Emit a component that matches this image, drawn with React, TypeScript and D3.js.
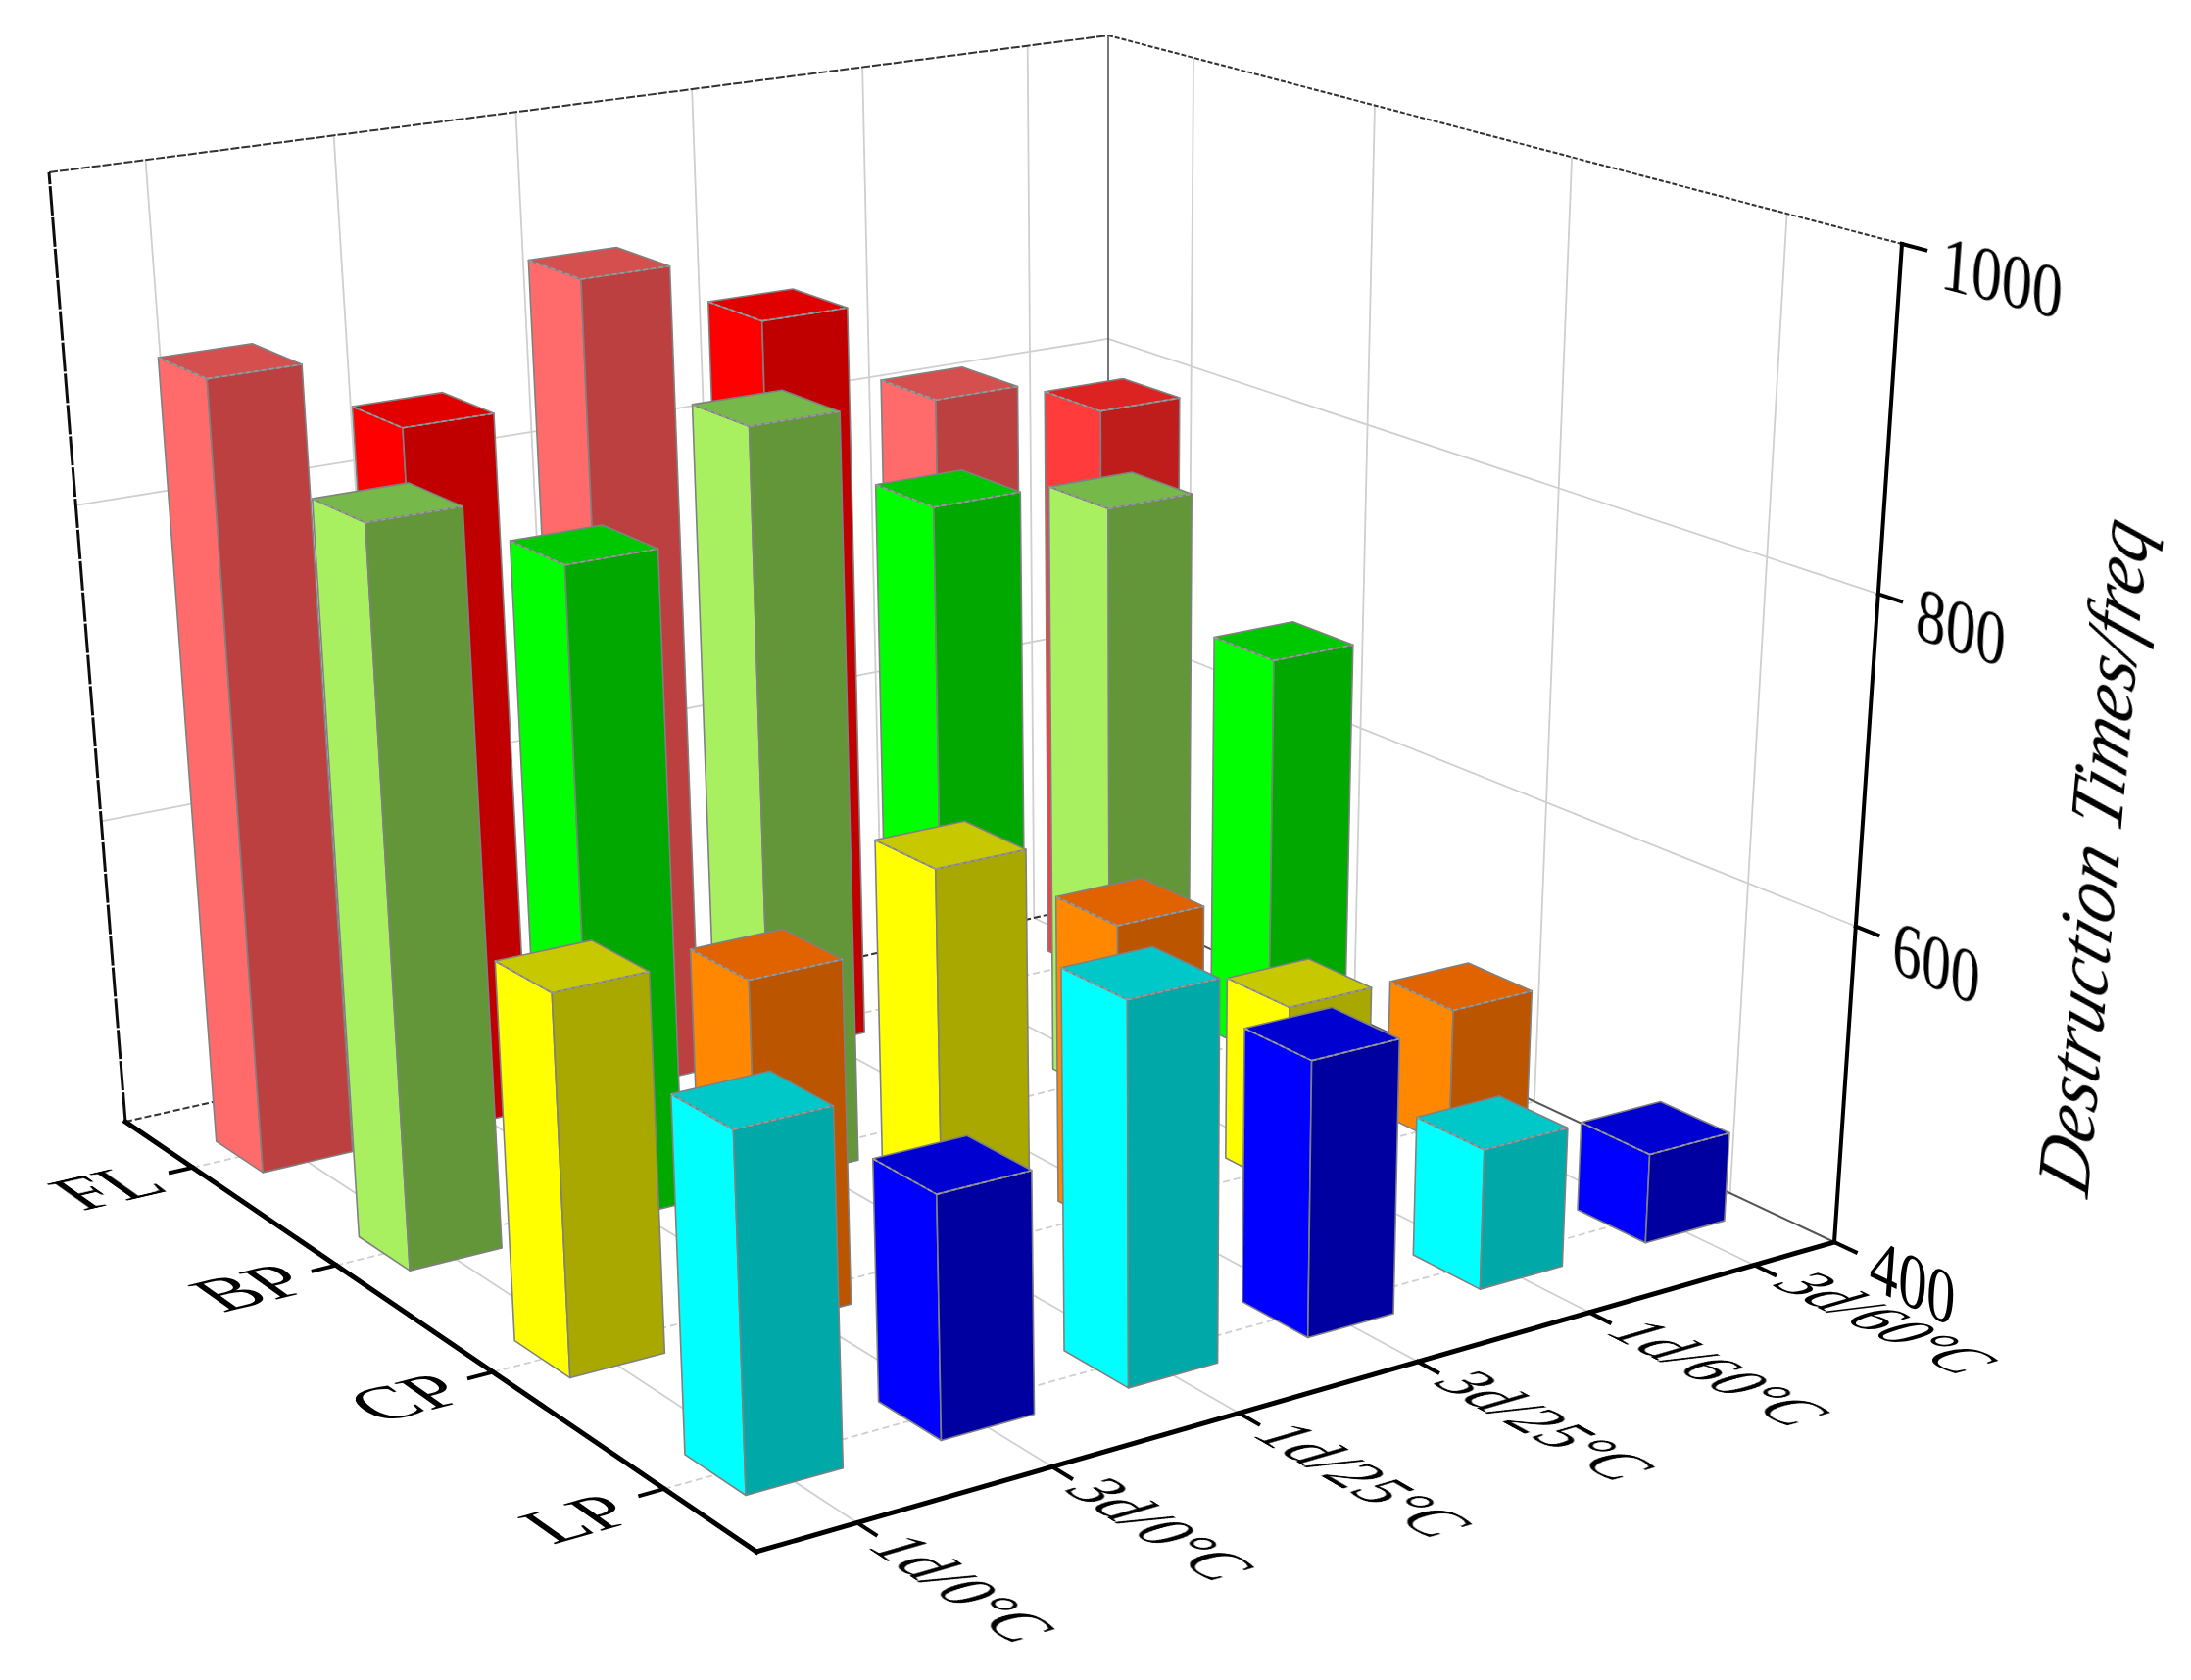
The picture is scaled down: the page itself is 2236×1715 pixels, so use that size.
import React from "react";
import * as d3 from "d3";

const rowNames = ["FL", "BP", "CP", "LP"];
const columnNames = ["1d/0°C", "3d/0°C", "1d/25°C", "3d/25°C", "1d/60°C", "3d/60°C"];
const zTicks = [400, 600, 800, 1000];
const valuesFL = [898, 851, 924, 882, 815, 790];
const valuesBP = [854, 810, 873, 806, 786, 669];
const valuesCP = [631, 613, 655, 596, 519, 491];
const valuesLP = [611, 546, 632, 570, 488, 457];
const allValues = [valuesFL, valuesBP, valuesCP, valuesLP];

const pink = ["#ff6b6b", "#d65050", "#bd4040"];
const red = ["#ff0000", "#e00000", "#c00000"];
const lightRed = ["#ff3a3a", "#dd2222", "#bf1a1a"];
const lightGreen = ["#a9f060", "#76b84a", "#649639"];
const green = ["#00ff00", "#00c800", "#00a800"];
const yellow = ["#ffff00", "#c8c800", "#a8a800"];
const orange = ["#ff8800", "#e06400", "#bc5400"];
const cyan = ["#00ffff", "#00c8c8", "#00a8a8"];
const blue = ["#0000ff", "#0000d0", "#0000a0"];
const palette = [
  [pink, red, pink, red, pink, lightRed],
  [lightGreen, green, lightGreen, green, lightGreen, green],
  [yellow, orange, yellow, orange, yellow, orange],
  [cyan, blue, cyan, blue, cyan, blue],
];

// box corners in screen pixels: floor and top plane
const floorQuad = [[772, 1584], [1872, 1268], [1131, 920], [128, 1145]];
const topQuad = [[734, 445], [1941, 249], [1131, 36], [50, 176]];

function homography(q: number[][]) {
  const [[x0, y0], [x1, y1], [x2, y2], [x3, y3]] = q;
  const dx1 = x1 - x2, dx2 = x3 - x2, sx = x0 - x1 + x2 - x3;
  const dy1 = y1 - y2, dy2 = y3 - y2, sy = y0 - y1 + y2 - y3;
  const den = dx1 * dy2 - dx2 * dy1;
  const g = (sx * dy2 - dx2 * sy) / den, h = (dx1 * sy - sx * dy1) / den;
  const a = x1 - x0 + g * x1, b = x3 - x0 + h * x3, c = x0;
  const d = y1 - y0 + g * y1, e = y3 - y0 + h * y3, f = y0;
  return (s: number, t: number) => {
    const w = g * s + h * t + 1;
    return [(a * s + b * t + c) / w, (d * s + e * t + f) / w];
  };
}
const floorH = homography(floorQuad);
const topH = homography(topQuad);
const project = (s: number, t: number, z: number): [number, number] => {
  const k = z / (1 + 0.08 * (1 - z));
  const p = floorH(s, t), q = topH(s, t);
  return [p[0] + (q[0] - p[0]) * k, p[1] + (q[1] - p[1]) * k];
};

const sScale = d3.scaleBand<string>().domain(columnNames).range([0, 1]);
const tScale = d3.scaleBand<string>().domain([...rowNames].reverse()).range([0, 1]);
const zScale = d3.scaleLinear().domain([400, 1000]).range([0, 1]);
const barHalfS = 0.041, barHalfT = 0.042;

const sMid = (c: string) => sScale(c)! + sScale.bandwidth() / 2;
const tMid = (c: string) => tScale(c)! + tScale.bandwidth() / 2;
const poly = d3.line();
const seg = (a: number[], b: number[]) => poly([project(a[0], a[1], a[2]), project(b[0], b[1], b[2])])!;
const area = (pts: number[][]) => poly(pts.map((p) => project(p[0], p[1], p[2])))! + "Z";

function labelMatrix(p: number[], base: number[], up: number[], sb: number, su: number) {
  const e = 0.002;
  const o = project(p[0], p[1], p[2]);
  const dirOf = (d: number[]) => {
    const q = project(p[0] + d[0] * e, p[1] + d[1] * e, p[2] + d[2] * e);
    const l = Math.hypot(q[0] - o[0], q[1] - o[1]);
    return [(q[0] - o[0]) / l, (q[1] - o[1]) / l];
  };
  const b = dirOf(base), u = dirOf(up);
  return `matrix(${b[0] * sb} ${b[1] * sb} ${-u[0] * su} ${-u[1] * su} ${o[0]} ${o[1]})`;
}

const FONT = "'Liberation Serif', serif";
const GRID = "#cfcfcf";

export default function App() {
  const bars: React.ReactNode[] = [];
  rowNames.forEach((rn, ri) => {
    [...columnNames].reverse().forEach((cn) => {
      const ci = columnNames.indexOf(cn);
      const [cl, ct, cr] = palette[ri][ci];
      const z = zScale(allValues[ri][ci]);
      const s0 = sMid(cn) - barHalfS, s1 = sMid(cn) + barHalfS;
      const t0 = tMid(rn) - barHalfT, t1 = tMid(rn) + barHalfT;
      bars.push(
        <g key={rn + cn} stroke="#808080" strokeWidth={1.6} strokeLinejoin="round">
          <path d={area([[s0, t1, 0], [s0, t0, 0], [s0, t0, z], [s0, t1, z]])} fill={cl} />
          <path d={area([[s0, t0, 0], [s1, t0, 0], [s1, t0, z], [s0, t0, z]])} fill={cr} />
          <path d={area([[s0, t0, z], [s1, t0, z], [s1, t1, z], [s0, t1, z]])} fill={ct} />
          <path d={seg([s0, t1, z], [s0, t0, z])} strokeDasharray="5 3" stroke="#9a9a9a" />
          <path d={seg([s0, t0, z], [s1, t0, z])} strokeDasharray="5 3" stroke="#9a9a9a" />
        </g>
      );
    });
  });

  return (
    <svg width={2236} height={1715} viewBox="0 0 2236 1715"
      style={{ position: "absolute", left: 0, top: 0, background: "#fff" }}>
      <defs>
        <filter id="soft" x="0" y="0" width="1" height="1">
          <feGaussianBlur stdDeviation="0.7" />
        </filter>
      </defs>
      <rect width={2236} height={1715} fill="#fff" />
      <g filter="url(#soft)">
      {/* walls and floor grid */}
      <g fill="none" stroke={GRID} strokeWidth={1.8}>
        {columnNames.map((c) => (
          <g key={c}>
            <path d={seg([sMid(c), 1, 0], [sMid(c), 1, 1])} />
            <path d={seg([sMid(c), 0, 0], [sMid(c), 1, 0])} />
          </g>
        ))}
        {rowNames.map((r) => (
          <g key={r}>
            <path d={seg([1, tMid(r), 0], [1, tMid(r), 1])} />
            <path d={seg([0, tMid(r), 0], [1, tMid(r), 0])} strokeDasharray="7 4" />
          </g>
        ))}
        {zTicks.slice(1, 3).map((v) => (
          <g key={v}>
            <path d={seg([0, 1, zScale(v)], [1, 1, zScale(v)])} />
            <path d={seg([1, 1, zScale(v)], [1, 0, zScale(v)])} />
          </g>
        ))}
      </g>
      {/* box frame */}
      <g fill="none" stroke="#333" strokeWidth={2}>
        <path d={seg([0, 1, 1], [1, 1, 1])} strokeDasharray="9 2" />
        <path d={seg([1, 1, 1], [1, 0, 1])} strokeDasharray="5 2" />
        <path d={seg([1, 1, 0], [1, 1, 1])} stroke="#555" strokeWidth={1.6} />
        <path d={seg([0, 1, 0], [1, 1, 0])} strokeDasharray="7 3" />
        <path d={seg([1, 1, 0], [1, 0, 0])} stroke="#555" />
        <path d={seg([0, 1, 0], [0, 1, 1])} stroke="#111" strokeWidth={3} strokeDasharray="30 2" />
      </g>
      {bars}
      {/* axes */}
      <g fill="none" stroke="#000" strokeLinecap="square">
        <path d={seg([0, 1, 0], [0, 0, 0])} strokeWidth={5} />
        <path d={seg([0, 0, 0], [1, 0, 0])} strokeWidth={5} />
        <path d={seg([1, 0, 0], [1, 0, 1])} strokeWidth={4} />
        {rowNames.map((r) => <path key={r} d={seg([0, tMid(r), 0], [-0.02, tMid(r), 0])} strokeWidth={4} />)}
        {columnNames.map((c) => <path key={c} d={seg([sMid(c), 0, 0], [sMid(c), -0.024, 0])} strokeWidth={4} />)}
        {zTicks.map((v) => <path key={v} d={seg([1, 0, zScale(v)], [1, -0.025, zScale(v)])} strokeWidth={4} />)}
      </g>
      {/* labels */}
      <g fontFamily={FONT} fontSize={100} fill="#000">
        {rowNames.map((r) => (
          <text key={r} textAnchor="middle"
            transform={labelMatrix([-0.076, tMid(r) - 0.035, 0], [1, 0, 0], [0, 1, 0], 0.8, 0.72)}>{r}</text>
        ))}
        {columnNames.map((c) => (
          <text key={c}
            transform={labelMatrix([sMid(c) - 0.016, -0.035, 0], [0, -1, 0], [1, 0, 0], 0.64, 0.75)}>{c}</text>
        ))}
        {zTicks.map((v) => (
          <text key={v}
            transform={labelMatrix([1, -0.042, zScale(v) - 0.03], [0, -1, 0], [0, 0, 1], 0.64, 0.78)}>{v}</text>
        ))}
        <text textAnchor="middle" fontStyle="italic"
          transform={labelMatrix([1, -0.268, 0.49], [0, 0, 1], [0, 1, 0], 0.75, 0.8)}>Destruction Times/freq</text>
      </g>
      </g>
    </svg>
  );
}
